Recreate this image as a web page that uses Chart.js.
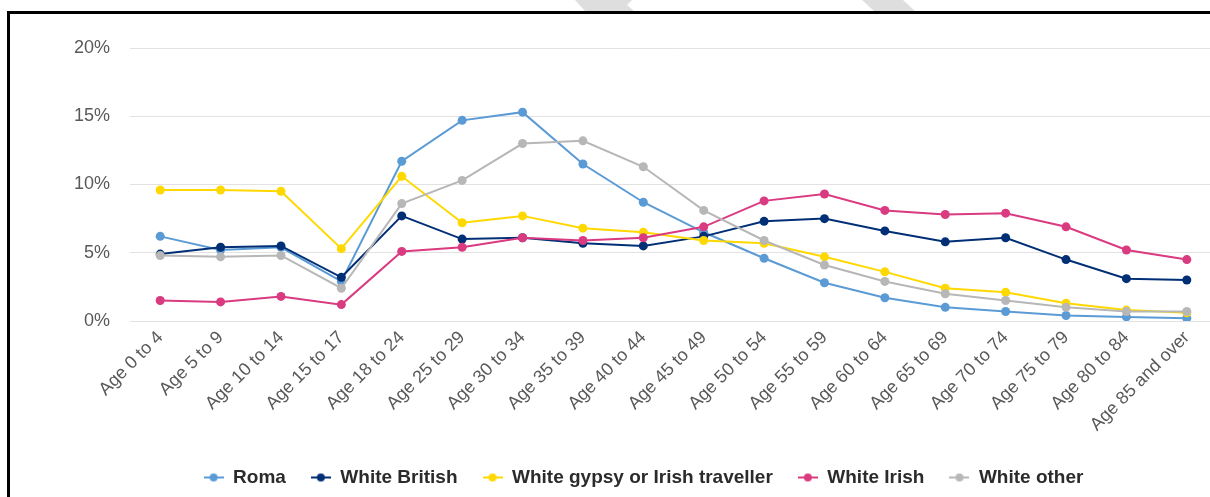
<!DOCTYPE html>
<html>
<head>
<meta charset="utf-8">
<script src="https://cdn.jsdelivr.net/npm/chart.js@4.4.1/dist/chart.umd.min.js"></script>
<style>
  html, body { margin: 0; padding: 0; background: #fff; overflow: hidden; width: 1210px; height: 497px; }
  #wrap { position: absolute; left: 0; top: 0; width: 1240px; height: 497px; }
  #frameTop { position: absolute; left: 7px; top: 11px; width: 1260px; height: 3px; background: #000; }
  #frameLeft { position: absolute; left: 7px; top: 11px; width: 3px; height: 500px; background: #000; }
  .stripe { position: absolute; top: 0; height: 11px; background: #dedede; }
</style>
</head>
<body>
<div id="wrap"><canvas id="c" width="1240" height="497"></canvas></div>
<div class="stripe" style="left:575px;width:60px;clip-path:polygon(0 0,57px 0,52px 5px,59px 11px,10px 11px);"></div>
<div class="stripe" style="left:862px;width:55px;clip-path:polygon(0 0,41px 0,53px 11px,12px 11px);"></div>
<div id="frameTop"></div>
<div id="frameLeft"></div>
<script>
const categories = ["Age 0 to 4","Age 5 to 9","Age 10 to 14","Age 15 to 17","Age 18 to 24","Age 25 to 29","Age 30 to 34","Age 35 to 39","Age 40 to 44","Age 45 to 49","Age 50 to 54","Age 55 to 59","Age 60 to 64","Age 65 to 69","Age 70 to 74","Age 75 to 79","Age 80 to 84","Age 85 and over"];
const roma          = [6.2, 5.2, 5.4, 2.9, 11.7, 14.7, 15.3, 11.5, 8.7, 6.5, 4.6, 2.8, 1.7, 1.0, 0.7, 0.4, 0.3, 0.2];
const whiteBritish  = [4.9, 5.4, 5.5, 3.2, 7.7, 6.0, 6.1, 5.7, 5.5, 6.2, 7.3, 7.5, 6.6, 5.8, 6.1, 4.5, 3.1, 3.0];
const gypsyTraveller= [9.6, 9.6, 9.5, 5.3, 10.6, 7.2, 7.7, 6.8, 6.5, 5.9, 5.7, 4.7, 3.6, 2.4, 2.1, 1.3, 0.8, 0.6];
const whiteIrish    = [1.5, 1.4, 1.8, 1.2, 5.1, 5.4, 6.1, 5.9, 6.1, 6.9, 8.8, 9.3, 8.1, 7.8, 7.9, 6.9, 5.2, 4.5];
const whiteOther    = [4.8, 4.7, 4.8, 2.4, 8.6, 10.3, 13.0, 13.2, 11.3, 8.1, 5.9, 4.1, 2.9, 2.0, 1.5, 1.0, 0.7, 0.7];
const seriesNames = ["Roma","White British","White gypsy or Irish traveller","White Irish","White other"];
const yTicks = [0, 5, 10, 15, 20];

const colors = ["#5B9BD5", "#002F75", "#FFD800", "#DA3A80", "#B7B7B7"];
const seriesData = [roma, whiteBritish, gypsyTraveller, whiteIrish, whiteOther];

function marker(color) {
  const c = document.createElement('canvas');
  c.width = 20; c.height = 10;
  const g = c.getContext('2d');
  g.strokeStyle = color; g.lineWidth = 2;
  g.beginPath(); g.moveTo(0, 5); g.lineTo(20, 5); g.stroke();
  g.fillStyle = color;
  g.beginPath(); g.arc(10, 5, 4, 0, Math.PI * 2); g.fill();
  return c;
}
const legendMarkers = colors.map(marker);

const datasets = seriesNames.map((name, i) => ({
  label: name,
  data: seriesData[i],
  borderColor: colors[i],
  backgroundColor: colors[i],
  pointBackgroundColor: colors[i],
  pointBorderColor: colors[i],
  pointBorderWidth: 0,
  pointRadius: 4.5,
  pointStyle: 'circle',
  borderWidth: 2,
  tension: 0,
  order: 5 - i
}));

new Chart(document.getElementById('c'), {
  type: 'line',
  data: { labels: categories, datasets },
  options: {
    responsive: false,
    animation: false,
    devicePixelRatio: 1,
    layout: { padding: { left: 70, right: 23, top: 48, bottom: 0 } },
    plugins: {
      tooltip: { enabled: false },
      legend: {
        position: 'bottom',
        labels: {
          usePointStyle: true,
          pointStyleWidth: 20,
          padding: 25,
          color: '#2B2B2B',
          font: { family: "'Liberation Sans', Arial, sans-serif", size: 19, weight: 'bold' },
          generateLabels: (chart) => chart.data.datasets.map((d, i) => ({
            text: d.label,
            fillStyle: d.borderColor,
            strokeStyle: d.borderColor,
            fontColor: '#2B2B2B',
            lineWidth: 0,
            pointStyle: legendMarkers[i],
            hidden: false,
            datasetIndex: i
          }))
        }
      }
    },
    scales: {
      x: {
        offset: true,
        grid: { display: false, drawTicks: false, offset: true },
        border: { display: false },
        afterFit: (s) => { s.height = 122; },
        ticks: {
          minRotation: 45, maxRotation: 45,
          padding: 6,
          autoSkip: false,
          color: '#595959',
          font: { family: "'Liberation Sans', Arial, sans-serif", size: 18 }
        }
      },
      y: {
        min: 0, max: 20,
        afterFit: (s) => { s.width = 60; },
        afterBuildTicks: (s) => { s.ticks = yTicks.map(v => ({ value: v })); },
        grid: { color: '#E2E2E2', lineWidth: 1, drawTicks: false },
        border: { display: false },
        ticks: {
          padding: 20,
          color: '#595959',
          font: { family: "'Liberation Sans', Arial, sans-serif", size: 18 },
          callback: (v) => v + '%'
        }
      }
    }
  }
});
</script>
</body>
</html>
